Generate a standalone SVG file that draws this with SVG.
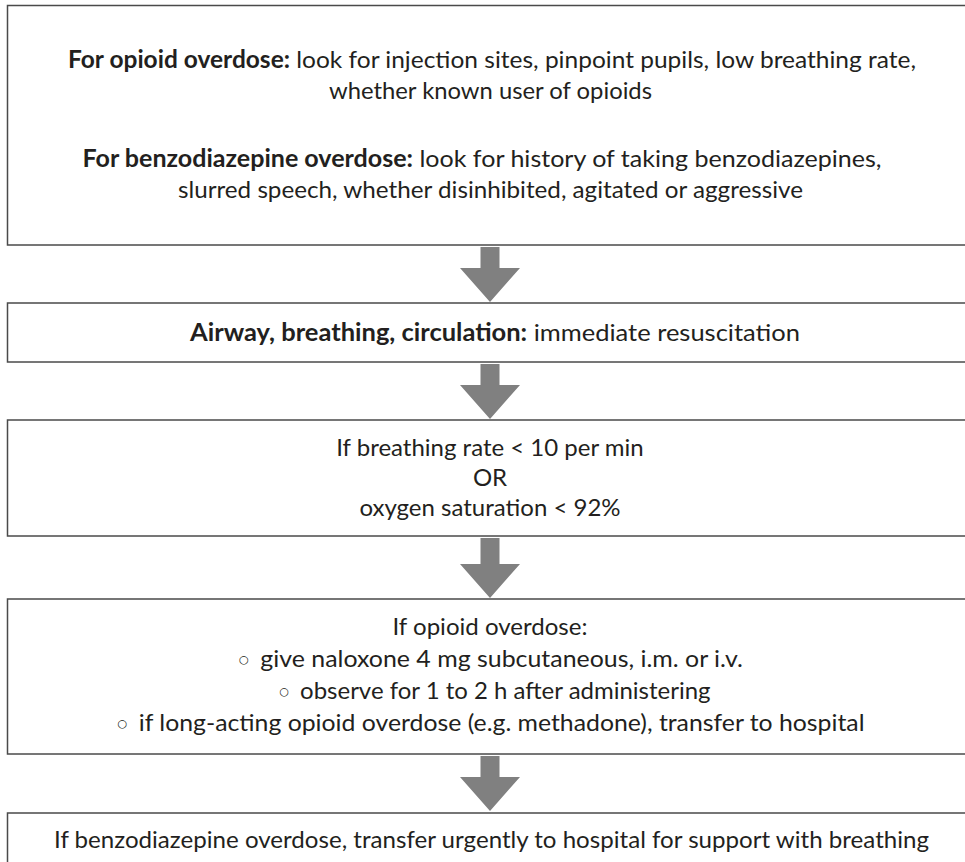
<svg xmlns="http://www.w3.org/2000/svg" width="965" height="862" viewBox="0 0 965 862">
  <style>
    .box { fill: #ffffff; stroke: #4a4a4a; stroke-width: 1.5; }
    .arrow { fill: #808080; stroke: none; }
    text { font-family: "Source Sans Pro", Lato, "Open Sans", "Liberation Sans", sans-serif; font-size: 24px; fill: #231f20; text-anchor: middle; }
    .b { font-weight: bold; }
    .dot { font-family: "DejaVu Sans", sans-serif; font-size: 11px; }
  </style>
  <rect x="0" y="0" width="965" height="862" fill="#ffffff"/>

  <!-- connectors: block arrows between steps -->
  <g id="connectors">
    <path class="arrow" d="M480.5,247 H499.5 V268 H520 L490,302 L460,268 H480.5 Z"/>
    <path class="arrow" d="M480.5,364 H499.5 V385 H520 L490,419 L460,385 H480.5 Z"/>
    <path class="arrow" d="M480.5,538 H499.5 V564 H520 L490,598 L460,564 H480.5 Z"/>
    <path class="arrow" d="M480.5,756 H499.5 V777 H520 L490,811 L460,777 H480.5 Z"/>
  </g>

  <g id="assess">
    <rect class="box" x="7.5" y="5.5" width="980" height="239.5"/>
    <text x="492" y="68" textLength="848" lengthAdjust="spacingAndGlyphs"><tspan class="b">For opioid overdose:</tspan> look for injection sites, pinpoint pupils, low breathing rate,</text>
    <text x="490.5" y="99" textLength="323" lengthAdjust="spacingAndGlyphs">whether known user of opioids</text>
    <text x="482" y="167" textLength="799" lengthAdjust="spacingAndGlyphs"><tspan class="b">For benzodiazepine overdose:</tspan> look for history of taking benzodiazepines,</text>
    <text x="490.5" y="198" textLength="625" lengthAdjust="spacingAndGlyphs">slurred speech, whether disinhibited, agitated or aggressive</text>
  </g>

  <g id="abc">
    <rect class="box" x="7.5" y="303" width="980" height="59"/>
    <text x="495" y="341" textLength="610" lengthAdjust="spacingAndGlyphs"><tspan class="b">Airway, breathing, circulation:</tspan> immediate resuscitation</text>
  </g>

  <g id="breathing">
    <rect class="box" x="7.5" y="420" width="980" height="116"/>
    <text x="490" y="456">If breathing rate &lt; 10 per min</text>
    <text x="490" y="486">OR</text>
    <text x="490" y="516">oxygen saturation &lt; 92%</text>
  </g>

  <g id="opioid">
    <rect class="box" x="7.5" y="599" width="980" height="155"/>
    <text x="490" y="635" textLength="195" lengthAdjust="spacingAndGlyphs">If opioid overdose:</text>
    <text x="491" y="667" textLength="504" lengthAdjust="spacingAndGlyphs"><tspan class="dot" dy="-4">○</tspan><tspan dx="11" dy="4">give naloxone 4 mg subcutaneous, i.m. or i.v.</tspan></text>
    <text x="495" y="699" textLength="431" lengthAdjust="spacingAndGlyphs"><tspan class="dot" dy="-4">○</tspan><tspan dx="11" dy="4">observe for 1 to 2 h after administering</tspan></text>
    <text x="491" y="731" textLength="747" lengthAdjust="spacingAndGlyphs"><tspan class="dot" dy="-4">○</tspan><tspan dx="11" dy="4">if long-acting opioid overdose (e.g. methadone), transfer to hospital</tspan></text>
  </g>

  <g id="benzo">
    <rect class="box" x="7.5" y="813" width="980" height="80"/>
    <text x="491.5" y="848" textLength="875" lengthAdjust="spacingAndGlyphs">If benzodiazepine overdose, transfer urgently to hospital for support with breathing</text>
  </g>
</svg>
